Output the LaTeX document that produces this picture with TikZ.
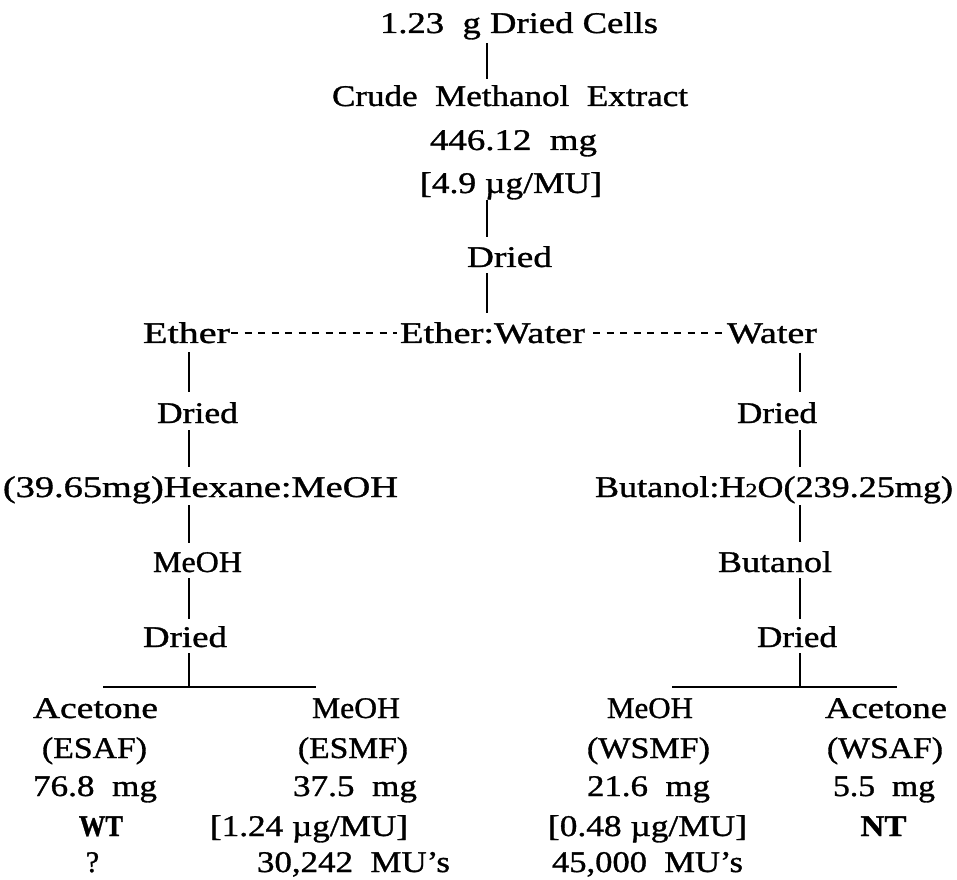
\documentclass[tikz,border=0pt]{standalone}
\usepackage{fontspec}
\setmainfont{Liberation Serif}[FakeBold=1]
\usepackage{graphicx}
\newcommand\tw[2]{\resizebox{#1pt}{\height}{#2}}
\begin{document}
\begin{tikzpicture}[x=1pt,y=1pt,
  txt/.style={inner sep=0pt, anchor=base, font=\fontsize{30}{36}\selectfont},
  conn/.style={line width=2.6pt},
  bar/.style={line width=2.4pt},
  dashline/.style={line width=2.4pt, dash pattern=on 7pt off 6.5pt}]
\useasboundingbox (0,0) rectangle (957,879);
% column coordinates
\coordinate (spine) at (487,0);
\coordinate (lcol) at (189,0);
\coordinate (rcol) at (800,0);
\coordinate (barLa) at (103,192);
\coordinate (barLb) at (316,192);
\coordinate (tickL) at (189,192);
\coordinate (barRa) at (672,192);
\coordinate (barRb) at (897,192);
\coordinate (tickR) at (800,192);
% top chain
\node[txt] (cells) at (519,846) {\tw{278}{1.23\enspace g Dried Cells}};
\node[txt] (crude) at (510,773) {\tw{356}{Crude\enspace Methanol\enspace Extract}};
\node[txt] (m446) at (513.5,729) {\tw{167}{446.12\enspace mg}};
\node[txt] (b49) at (511,686) {\tw{182}{[4.9 µg/MU]}};
\node[txt] (dried0) at (509.5,612) {\tw{85}{Dried}};
% ether row
\node[txt] (ether) at (186.5,536) {\tw{87}{Ether}};
\node[txt] (ew) at (492.5,536) {\tw{185}{Ether:Water}};
\node[txt] (water) at (772,536) {\tw{90}{Water}};
% left column
\node[txt] (driedL1) at (197.5,456) {\tw{81}{Dried}};
\node[txt] (hex) at (200.5,382) {\tw{395}{(39.65mg)Hexane:MeOH}};
\node[txt] (meohL) at (197.5,307) {\tw{89}{MeOH}};
\node[txt] (driedL2) at (185,232) {\tw{84}{Dried}};
% right column
\node[txt] (driedR1) at (777,456) {\tw{80}{Dried}};
\node[txt] (but) at (774,382) {\tw{358}{Butanol:H{\fontsize{20}{20}\selectfont 2}O(239.25mg)}};
\node[txt] (butR) at (775,307) {\tw{114}{Butanol}};
\node[txt] (driedR2) at (797,232) {\tw{80}{Dried}};
% bottom column A
\node[txt] (acetA) at (95.5,161) {\tw{125}{Acetone}};
\node[txt] (esaf) at (94.5,121) {\tw{105}{(ESAF)}};
\node[txt] (mA) at (95,83) {\tw{124}{76.8\enspace mg}};
\node[txt] (wt) at (101,43) {\tw{44}{\textbf{WT}}};
\node[txt] (qA) at (92.5,7) {?};
% bottom column B
\node[txt] (meohB) at (356,161) {\tw{88}{MeOH}};
\node[txt] (esmf) at (353,121) {\tw{110}{(ESMF)}};
\node[txt] (mB) at (355,83) {\tw{124}{37.5\enspace mg}};
\node[txt] (rB) at (309,43) {\tw{198}{[1.24 µg/MU]}};
\node[txt] (uB) at (353.5,7) {\tw{193}{30,242\enspace MU's}};
% bottom column C
\node[txt] (meohC) at (650,161) {\tw{86}{MeOH}};
\node[txt] (wsmf) at (648.5,121) {\tw{123}{(WSMF)}};
\node[txt] (mC) at (648.5,83) {\tw{123}{21.6\enspace mg}};
\node[txt] (rC) at (647.5,43) {\tw{199}{[0.48 µg/MU]}};
\node[txt] (uC) at (647.5,7) {\tw{191}{45,000\enspace MU's}};
% bottom column D
\node[txt] (acetD) at (886,161) {\tw{122}{Acetone}};
\node[txt] (wsaf) at (885,121) {\tw{116}{(WSAF)}};
\node[txt] (mD) at (884,83) {\tw{102}{5.5\enspace mg}};
\node[txt] (nt) at (883.5,43) {\tw{46}{\textbf{NT}}};
% spine connectors
\draw[conn, shorten <=3.5pt, shorten >=5.5pt] (cells.south -| spine) -- (crude.north -| spine);
\draw[conn, shorten <=0pt, shorten >=9pt] (b49.south -| spine) -- (dried0.north -| spine);
\draw[conn, shorten <=6pt, shorten >=9pt] (dried0.south -| spine) -- (ew.north -| spine);
% ether row dashes
\draw[dashline, shorten <=1pt, shorten >=3pt] ([yshift=10pt]ether.base east) -- ([yshift=10pt]ew.base west);
\draw[dashline, shorten <=8pt, shorten >=4pt] ([yshift=10pt]ew.base east) -- ([yshift=10pt]water.base west);
% left column connectors
\draw[conn, shorten <=9pt, shorten >=10pt] (ether.south -| lcol) -- (driedL1.north -| lcol);
\draw[conn, shorten <=7pt, shorten >=9pt] (driedL1.south -| lcol) -- (hex.north -| lcol);
\draw[conn, shorten <=1.5pt, shorten >=9pt] (hex.south -| lcol) -- (meohL.north -| lcol);
\draw[conn, shorten <=6pt, shorten >=6.5pt] (meohL.south -| lcol) -- (driedL2.north -| lcol);
\draw[conn, shorten <=6pt] (driedL2.south -| tickL) -- (tickL);
\draw[bar] (barLa) -- (barLb);
% right column connectors
\draw[conn, shorten <=9pt, shorten >=10pt] (water.south -| rcol) -- (driedR1.north -| rcol);
\draw[conn, shorten <=7pt, shorten >=9pt] (driedR1.south -| rcol) -- (but.north -| rcol);
\draw[conn, shorten <=1.5pt, shorten >=9pt] (but.south -| rcol) -- (butR.north -| rcol);
\draw[conn, shorten <=6pt, shorten >=6.5pt] (butR.south -| rcol) -- (driedR2.north -| rcol);
\draw[conn, shorten <=6pt] (driedR2.south -| tickR) -- (tickR);
\draw[bar] (barRa) -- (barRb);
\end{tikzpicture}
\end{document}
